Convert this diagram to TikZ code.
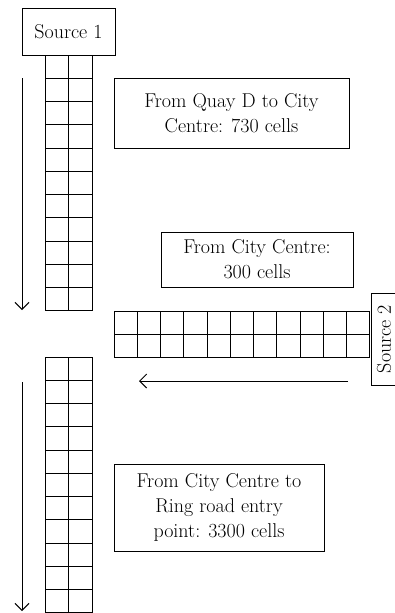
\documentclass[tikz,border=0pt]{standalone}
\usetikzlibrary{arrows.meta}
\begin{document}
\begin{tikzpicture}[x=1pt,y=-1pt,line width=1pt,
  txt/.style={font=\fontsize{20}{25}\selectfont, align=center},
  box/.style={draw, txt, inner sep=0pt},
  flow/.style={-{Straight Barb[length=7pt,width=14pt]}}]
\useasboundingbox (0,0) rectangle (394,613);
% Source 1
\node[box, minimum width=93pt, minimum height=47pt] (src1) at (68.5,31.5) {Source 1};
% top column
\foreach \i in {0,...,11} \draw (45,55+\i*23.27) -- (92,55+\i*23.27);
\foreach \x in {45,68.5,92} \draw (\x,55) -- (\x,311);
% horizontal strip
\foreach \j in {0,1,2} \draw (114,311+\j*23) -- (370,311+\j*23);
\foreach \i in {0,...,11} \draw (114+\i*23.27,311) -- (114+\i*23.27,357);
% bottom column
\foreach \i in {0,...,11} \draw (45,357+\i*23.27) -- (92,357+\i*23.27);
\foreach \x in {45,68.5,92} \draw (\x,357) -- (\x,613);
% Source 2
\node[box, rotate=90, minimum width=92pt, minimum height=26pt] (src2) at (384,339) {Source 2};
% text boxes
\node[box, minimum width=235pt, minimum height=70pt] (b1) at (231.5,113) {From Quay D to City\\Centre: 730 cells};
\node[box, minimum width=192pt, minimum height=55pt] (b2) at (257,259.5) {From City Centre:\\300 cells};
\node[box, minimum width=210pt, minimum height=87pt] (b3) at (219,507.5) {From City Centre to\\Ring road entry\\point: 3300 cells};
% arrows
\coordinate (a1s) at (22,78);
\coordinate (a1e) at (22,310);
\coordinate (a2s) at (348,381);
\coordinate (a2e) at (139,381);
\coordinate (a3s) at (22,382);
\coordinate (a3e) at (22,611);
\draw[flow] (a1s) -- (a1e);
\draw[flow] (a2s) -- (a2e);
\draw[flow] (a3s) -- (a3e);
\end{tikzpicture}
\end{document}
